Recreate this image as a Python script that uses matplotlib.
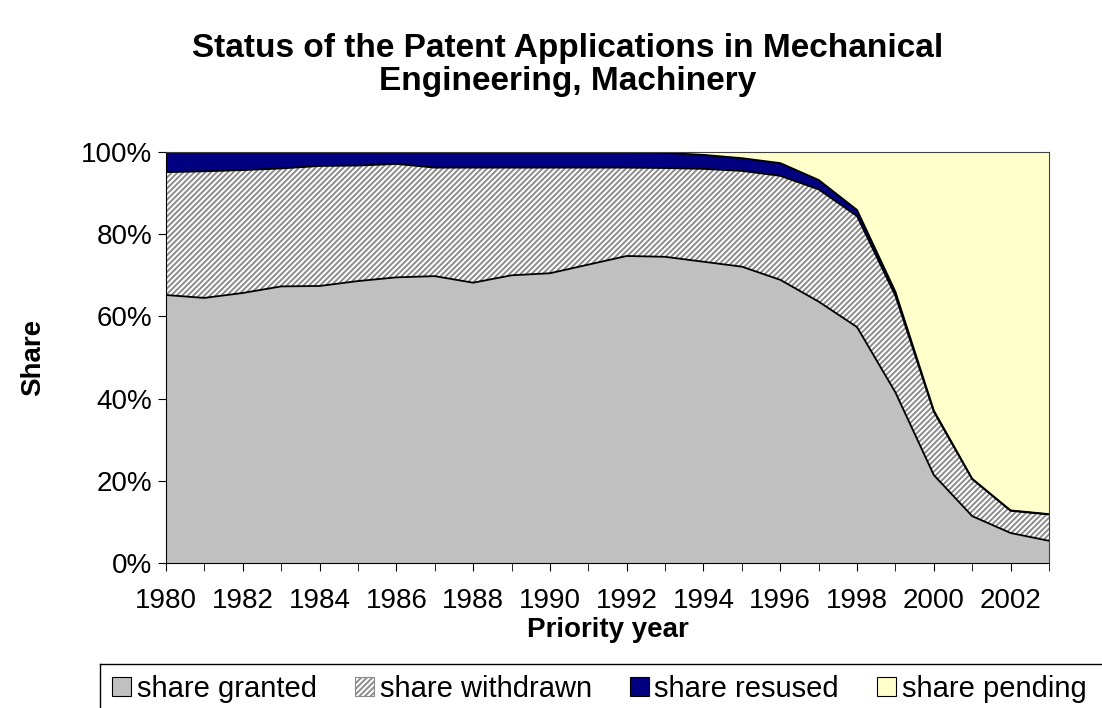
import matplotlib.pyplot as plt
import numpy as np
from matplotlib.lines import Line2D
from matplotlib.patches import Patch
from matplotlib.ticker import MultipleLocator, PercentFormatter

plt.rcParams['font.family'] = ['Liberation Sans', 'DejaVu Sans']
plt.rcParams['hatch.linewidth'] = 1.4
plt.rcParams['hatch.color'] = '#8c8c8c'

years = list(range(1980, 2004))
# shares in percent
granted = [65.2, 64.5, 65.7, 67.3, 67.4, 68.6, 69.5, 69.8, 68.2, 70.0, 70.5, 72.6,
           74.7, 74.5, 73.3, 72.1, 68.9, 63.6, 57.4, 41.5, 21.4, 11.4, 7.3, 5.4]
withdrawn = [29.9, 30.8, 29.9, 28.7, 29.2, 28.1, 27.6, 26.4, 28.0, 26.2, 25.7, 23.6,
             21.5, 21.6, 22.6, 23.3, 25.3, 27.3, 27.0, 23.5, 15.4, 9.0, 5.4, 6.4]
refused = [4.9, 4.7, 4.4, 4.0, 3.4, 3.3, 2.9, 3.8, 3.8, 3.8, 3.8, 3.8,
           3.8, 3.7, 3.4, 3.1, 3.1, 2.3, 1.5, 1.0, 0.3, 0.1, 0.1, 0.1]
pending = [0.0, 0.0, 0.0, 0.0, 0.0, 0.0, 0.0, 0.0, 0.0, 0.0, 0.0, 0.0,
           0.0, 0.2, 0.7, 1.5, 2.7, 6.8, 14.1, 34.0, 62.9, 79.5, 87.2, 88.1]

labels = ['share granted', 'share withdrawn', 'share resused', 'share pending']
colors = ['#C0C0C0', 'white', '#000080', '#FFFFCC']

fig = plt.figure(figsize=(11.02, 7.08), dpi=100)
ax = fig.add_axes([166 / 1102, 1 - 563 / 708, 883 / 1102, 411 / 708])

polys = ax.stackplot(years, granted, withdrawn, refused, pending, colors=colors,
                     linewidth=0)
polys[1].set_hatch('//////')
polys[1].set_edgecolor('#8c8c8c')
polys[1].set_linewidth(0)

cum = np.cumsum([granted, withdrawn, refused], axis=0)
for c in cum:
    ax.plot(years, c, color='black', lw=1.3)

ax.set_xlim(1980, 2003)
ax.set_ylim(0, 100)
ax.yaxis.set_major_locator(MultipleLocator(20))
ax.yaxis.set_major_formatter(PercentFormatter(decimals=0))
ax.xaxis.set_major_locator(MultipleLocator(2))
ax.xaxis.set_minor_locator(MultipleLocator(1))
ax.tick_params(axis='both', which='both', direction='out', labelsize=20, color='black')
ax.tick_params(axis='x', which='both', length=6, pad=12)
ax.tick_params(axis='y', length=6, pad=4)
for side in ['top', 'right']:
    ax.spines[side].set_color('#404040')
for side in ['left', 'bottom']:
    ax.spines[side].set_color('black')

ax.set_xlabel('Priority year', fontsize=20, fontweight='bold', labelpad=2)
ax.set_ylabel('Share', fontsize=20, fontweight='bold', labelpad=25)

fig.text(568 / 1102, 1 - 65 / 708,
         'Status of the Patent Applications in Mechanical\nEngineering, Machinery',
         ha='center', va='center', fontsize=24, fontweight='bold', linespacing=1.1)

handles = [Patch(facecolor=colors[0], edgecolor='black', lw=0.8),
           Patch(facecolor='white', edgecolor='#8c8c8c', hatch='//////', lw=0.8),
           Patch(facecolor=colors[2], edgecolor='black', lw=0.8),
           Patch(facecolor=colors[3], edgecolor='black', lw=0.8)]
fig.legend(handles, labels, loc='center left', bbox_to_anchor=(112 / 1102, 1 - 689 / 708),
           ncol=4, frameon=False, fontsize=21, handlelength=0.65, handleheight=0.65,
           handletextpad=0.2, columnspacing=1.3, borderaxespad=0, borderpad=0)
fig.add_artist(Line2D([100 / 1102, 1], [1 - 664 / 708, 1 - 664 / 708], color='black', lw=1))
fig.add_artist(Line2D([100 / 1102, 100 / 1102], [1 - 664 / 708, 0], color='black', lw=1))

fig.savefig('out.png', dpi=100)
